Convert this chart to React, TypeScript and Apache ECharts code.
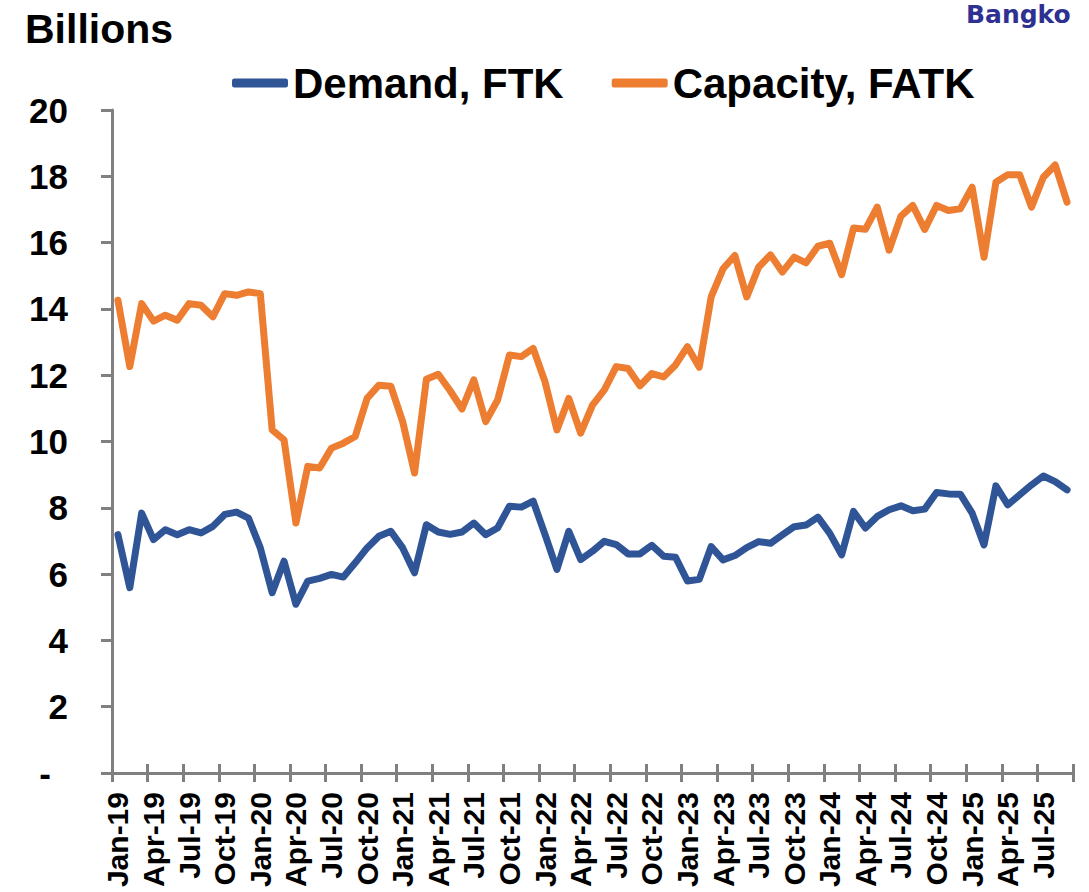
import React, { useEffect, useRef } from "react";
import * as echarts from "echarts";

const MONTHS = ["Jan", "Feb", "Mar", "Apr", "May", "Jun", "Jul", "Aug", "Sep", "Oct", "Nov", "Dec"];
const YEARS = ["19", "20", "21", "22", "23", "24", "25"];
const MONTH_COUNT = 81; // Jan-19 .. Sep-25

const categories: string[] = [];
for (const y of YEARS) {
  for (const m of MONTHS) {
    if (categories.length < MONTH_COUNT) categories.push(`${m}-${y}`);
  }
}

const demandFTK = [
  7.19, 5.59, 7.84, 7.04, 7.34, 7.19, 7.34, 7.24, 7.44, 7.8, 7.87, 7.69,
  6.79, 5.44, 6.39, 5.09, 5.79, 5.87, 5.99, 5.91, 6.34, 6.79, 7.14, 7.29,
  6.79, 6.04, 7.49, 7.27, 7.2, 7.27, 7.54, 7.19, 7.39, 8.05, 8.02, 8.2,
  7.19, 6.14, 7.29, 6.44, 6.69, 6.99, 6.89, 6.61, 6.61, 6.87, 6.54, 6.51,
  5.79, 5.84, 6.83, 6.43, 6.56, 6.8, 6.98, 6.93, 7.18, 7.43, 7.48, 7.72,
  7.23, 6.58, 7.89, 7.39, 7.74, 7.94, 8.06, 7.91, 7.96, 8.46, 8.42, 8.41,
  7.84, 6.88, 8.66, 8.09, 8.39, 8.69, 8.96, 8.79, 8.54,
];

const capacityFATK = [
  14.26, 12.26, 14.16, 13.63, 13.81, 13.66, 14.16, 14.11, 13.76, 14.46, 14.41, 14.51,
  14.46, 10.35, 10.05, 7.54, 9.25, 9.2, 9.8, 9.95, 10.15, 11.3, 11.7, 11.67,
  10.6, 9.05, 11.88, 12.03, 11.53, 10.98, 11.86, 10.6, 11.25, 12.61, 12.56, 12.81,
  11.8, 10.35, 11.3, 10.25, 11.1, 11.56, 12.26, 12.2, 11.68, 12.05, 11.95, 12.31,
  12.86, 12.24, 14.36, 15.21, 15.61, 14.36, 15.26, 15.63, 15.11, 15.56, 15.39, 15.89,
  15.98, 15.03, 16.44, 16.4, 17.07, 15.77, 16.8, 17.12, 16.4, 17.12, 16.97, 17.02,
  17.67, 15.56, 17.82, 18.05, 18.05, 17.07, 17.97, 18.34, 17.22,
];

const SERIES_NAMES = ["Demand, FTK", "Capacity, FATK"];
const COLORS = ["#2F5597", "#ED7D31"];
const Y_MIN = 0;
const Y_MAX = 20;
const Y_STEP = 2;

const FONT = "'Liberation Sans', Arial, Helvetica, sans-serif";
const AXIS_COLOR = "#808080";

export default function App() {
  const ref = useRef<HTMLDivElement>(null);

  useEffect(() => {
    if (!ref.current) return;
    const chart = echarts.init(ref.current, undefined, { renderer: "svg" });
    chart.setOption({
      animation: false,
      backgroundColor: "#ffffff",
      textStyle: { fontFamily: FONT },
      grid: { left: 112, right: 16, top: 110, bottom: 119, containLabel: false },
      legend: {
        left: 227,
        top: 57,
        itemWidth: 56,
        itemHeight: 9,
        itemGap: 48,
        icon: "roundRect",
        data: SERIES_NAMES,
        textStyle: { fontSize: 42, fontWeight: "bold", color: "#000", fontFamily: FONT },
      },
      graphic: [
        {
          type: "text",
          left: 25,
          top: 8,
          style: { text: "Billions", fontSize: 41, fontWeight: "bold", fill: "#000", fontFamily: FONT },
        },
        {
          type: "text",
          left: 966,
          top: 2,
          style: {
            text: "Bangko",
            fontSize: 25,
            fontWeight: "bold",
            fill: "#2E3192",
            fontFamily: "'DejaVu Sans', sans-serif",
          },
        },
      ],
      xAxis: [
        {
          type: "category",
          data: categories,
          boundaryGap: true,
          axisLine: { show: true, lineStyle: { color: AXIS_COLOR, width: 3 } },
          axisTick: { show: true, interval: 2, length: 9, lineStyle: { color: AXIS_COLOR, width: 3 } },
          axisLabel: {
            interval: 2,
            rotate: 90,
            margin: 19,
            fontSize: 30,
            fontWeight: "bold",
            color: "#000",
            fontFamily: FONT,
          },
          splitLine: { show: false },
        },
        {
          type: "category",
          data: categories,
          boundaryGap: true,
          position: "bottom",
          axisLine: { show: false },
          axisTick: { show: true, inside: true, interval: 2, length: 9, lineStyle: { color: AXIS_COLOR, width: 3 } },
          axisLabel: { show: false },
          splitLine: { show: false },
        },
      ],
      yAxis: {
        type: "value",
        min: Y_MIN,
        max: Y_MAX,
        interval: Y_STEP,
        axisLine: { show: true, lineStyle: { color: AXIS_COLOR, width: 3 } },
        axisTick: { show: true, length: 11, lineStyle: { color: AXIS_COLOR, width: 3 } },
        splitLine: { show: false },
        axisLabel: {
          margin: 44,
          fontSize: 35,
          fontWeight: "bold",
          color: "#000",
          fontFamily: FONT,
          formatter: (v: number) => (v === 0 ? "{d|-}" : String(v)),
          rich: {
            d: { fontSize: 35, fontWeight: "bold", color: "#000", fontFamily: FONT, padding: [0, 17, 0, 0] },
          },
        },
      },
      series: [
        {
          name: SERIES_NAMES[0],
          type: "line",
          data: demandFTK,
          showSymbol: false,
          symbol: "none",
          color: COLORS[0],
          lineStyle: { width: 7, color: COLORS[0], cap: "round", join: "round" },
          xAxisIndex: 0,
        },
        {
          name: SERIES_NAMES[1],
          type: "line",
          data: capacityFATK,
          showSymbol: false,
          symbol: "none",
          color: COLORS[1],
          lineStyle: { width: 7, color: COLORS[1], cap: "round", join: "round" },
          xAxisIndex: 0,
        },
      ],
    });
    return () => chart.dispose();
  }, []);

  return (
    <div
      ref={ref}
      style={{ position: "absolute", left: 0, top: 0, width: 1089, height: 892, background: "#fff" }}
    />
  );
}
